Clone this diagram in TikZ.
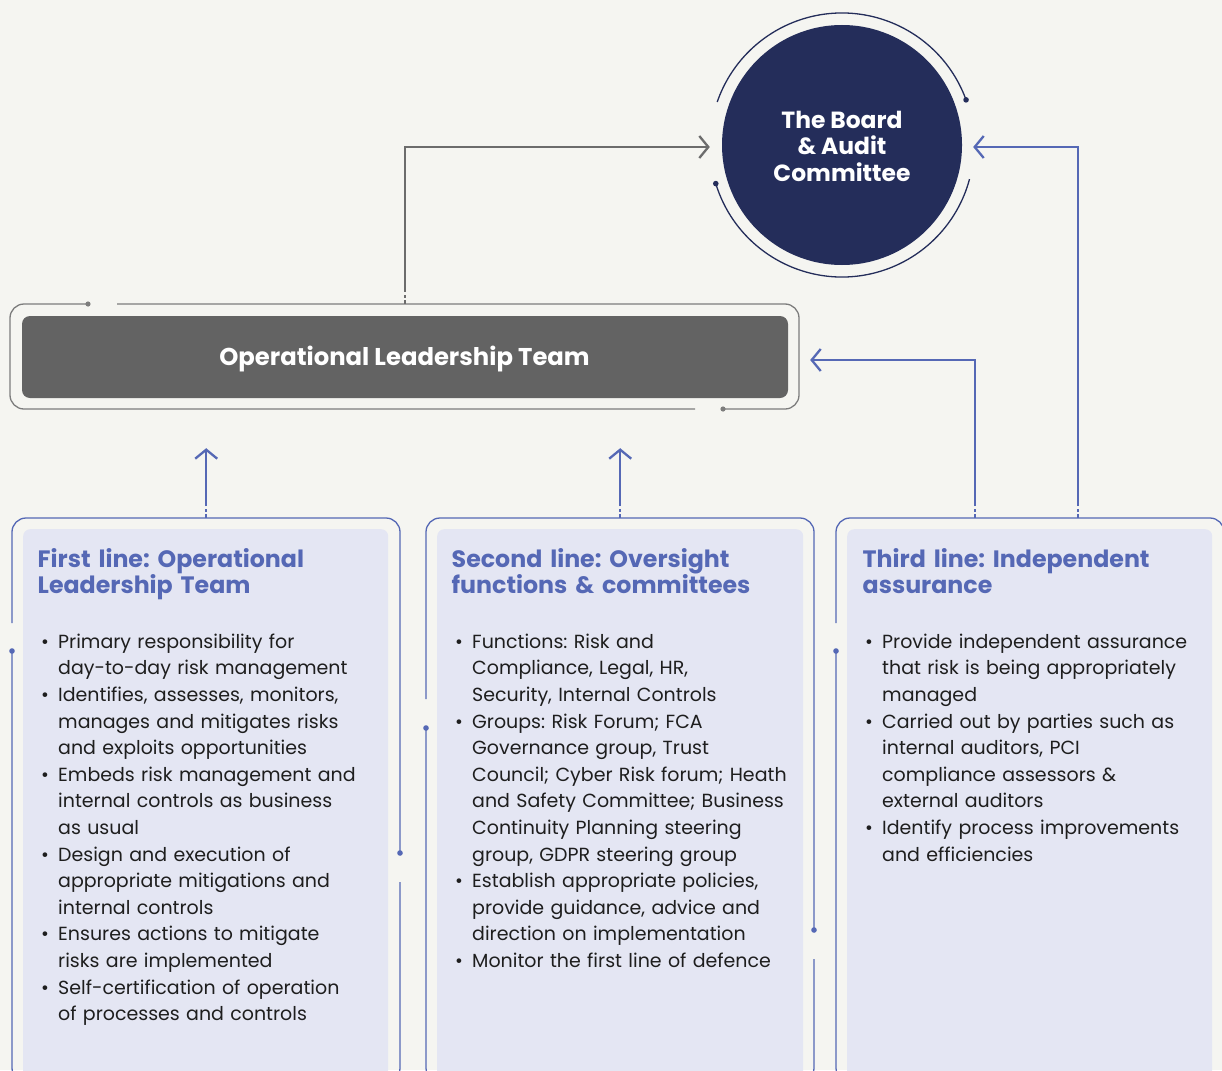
\documentclass[tikz,border=0pt]{standalone}
\usepackage{fontspec}
\setmainfont{Poppins}
\usetikzlibrary{arrows.meta,calc}
\definecolor{bg}{RGB}{245,245,241}
\definecolor{navy}{RGB}{36,45,90}
\definecolor{oltgray}{RGB}{99,99,99}
\definecolor{framegray}{RGB}{125,125,125}
\definecolor{arrowgray}{RGB}{108,108,108}
\definecolor{blueline}{RGB}{85,104,181}
\definecolor{lav}{RGB}{228,230,243}
\definecolor{bodytext}{RGB}{30,30,30}
\newcommand{\bitem}{\makebox[17pt][l]{•}}
\newcommand{\bcont}{\hspace*{17pt}}
\frenchspacing
\begin{document}
\begin{tikzpicture}[x=1pt,y=1pt,
  frame/.style={line width=1.3pt, rounded corners=14pt},
  bframe/.style={frame, draw=blueline},
  gframe/.style={frame, draw=framegray},
  conn/.style={line width=2.3pt, -{Straight Barb[length=9pt,width=22pt]}},
  stub/.style={line width=2.3pt, dash pattern=on 4pt off 2pt on 3pt off 3pt},
  colfill/.style={fill=lav, rounded corners=7pt, inner sep=0pt, anchor=north west, minimum height=560pt},
  colframe/.style={inner sep=0pt, anchor=north west, minimum width=388pt, minimum height=564pt},
  body/.style={anchor=north west, inner sep=0pt, align=left, text width=400pt, text=bodytext, font=\fontsize{19}{26.6}\selectfont},
  title/.style={anchor=north west, inner sep=0pt, align=left, text width=400pt, text=blueline, font=\bfseries\fontsize{23.7}{26}\selectfont}
]
\useasboundingbox (0,0) rectangle (1222,-1070);
\clip (0,0) rectangle (1222,-1070);
\fill[bg] (0,0) rectangle (1222,-1070);

% Board
\node[circle, fill=navy, minimum size=240pt, inner sep=0pt] (board) at (842,-145) {};
\node[text=white, font=\bfseries\fontsize{23.4}{26.5}\selectfont, align=center, inner sep=0pt] (boardtext) at (842,-146) {The Board\\\& Audit\\Committee};
\node[circle, minimum size=264pt, inner sep=0pt] (ring) at (842,-145) {};
\draw[navy, line width=1.3pt] (ring.center) ++(20:132pt) arc[start angle=20, end angle=161, radius=132pt];
\draw[navy, line width=1.3pt] (ring.center) ++(197:132pt) arc[start angle=197, end angle=345, radius=132pt];
\fill[navy] (ring.center) ++(20:132pt) circle (2.8pt);
\fill[navy] (ring.center) ++(197:132pt) circle (2.8pt);

% Operational Leadership Team
\node[fill=oltgray, rounded corners=8pt, minimum width=766pt, minimum height=82pt, inner sep=0pt] (olt) at (405,-357) {};
\node[text=white, font=\bfseries\fontsize{24.3}{26}\selectfont, inner sep=0pt] (olttext) at (404.5,-359) {Operational Leadership Team};
\node[minimum width=789pt, minimum height=105pt, inner sep=0pt] (oltf) at (404.5,-356.5) {};
\draw[gframe] (117,-304) -- (799,-304) -- (799,-409) -- (723,-409);
\draw[gframe] (695,-409) -- (10,-409) -- (10,-304) -- (88,-304);
\fill[framegray] (723,-409) circle (2.6pt);
\fill[framegray] (88,-304) circle (2.6pt);

% Columns
\node[colfill, minimum width=365pt] (c1) at (23,-529) {};
\node[colfill, minimum width=366pt] (c2) at (437,-529) {};
\node[colfill, minimum width=365pt] (c3) at (847,-529) {};
\node[colframe] (f1) at (12,-518) {};
\node[colframe] (f2) at (426,-518) {};
\node[colframe] (f3) at (836,-518) {};

\draw[bframe] (12,-651) -- (12,-1082) -- (400,-1082) -- (400,-882);
\draw[bframe] (400,-853) -- (400,-518) -- (12,-518) -- (12,-623);
\fill[blueline] (12,-651) circle (2.8pt);
\fill[blueline] (400,-853) circle (2.8pt);
\draw[bframe] (426,-728) -- (426,-1082) -- (814,-1082) -- (814,-959);
\draw[bframe] (814,-930) -- (814,-518) -- (426,-518) -- (426,-699);
\fill[blueline] (426,-728) circle (2.8pt);
\fill[blueline] (814,-930) circle (2.8pt);
\draw[bframe] (836,-651) -- (836,-1082) -- (1224,-1082) -- (1224,-518) -- (836,-518) -- (836,-623);
\fill[blueline] (836,-651) circle (2.8pt);

% Connectors
\coordinate (gs) at (olt.north |- oltf.north);
\draw[stub, arrowgray] (gs) -- ++(0,13);
\draw[conn, arrowgray] ($(gs)+(0,13)$) |- ($(ring.west)+(0,-2)$);

\draw[stub, blueline] (f1.north) -- ++(0,13);
\draw[conn, blueline] ($(f1.north)+(0,13)$) -- ($(f1.north |- oltf.south)+(0,-39)$);
\draw[stub, blueline] (f2.north) -- ++(0,13);
\draw[conn, blueline] ($(f2.north)+(0,13)$) -- ($(f2.north |- oltf.south)+(0,-39)$);

\coordinate (ta) at ($(f3.north)+(-55,0)$);
\coordinate (tb) at ($(f3.north)+(48,0)$);
\draw[stub, blueline] (ta) -- ++(0,13);
\draw[conn, blueline] ($(ta)+(0,13)$) |- ($(oltf.east)+(11,-3.5)$);
\draw[stub, blueline] (tb) -- ++(0,13);
\draw[conn, blueline] ($(tb)+(0,13)$) |- ($(ring.east)+(-1,-2)$);

% Titles
\node[title] (t1) at (37.5,-545) {\rule{0pt}{22pt}First line: Operational\\Leadership Team};
\node[title] (t2) at (451.5,-545) {\rule{0pt}{22pt}Second line: Oversight\\functions \& committees};
\node[title] (t3) at (862.5,-545) {\rule{0pt}{22pt}Third line: Independent\\assurance};

% Bodies
\node[body] (b1) at (41,-628) {\rule{0pt}{20pt}\bitem Primary responsibility for\\
\bcont day-to-day risk management\\
\bitem Identifies, assesses, monitors,\\
\bcont manages and mitigates risks\\
\bcont and exploits opportunities\\
\bitem Embeds risk management and\\
\bcont internal controls as business\\
\bcont as usual\\
\bitem Design and execution of\\
\bcont appropriate mitigations and\\
\bcont internal controls\\
\bitem Ensures actions to mitigate\\
\bcont risks are implemented\\
\bitem Self-certification of operation\\
\bcont of processes and controls};

\node[body] (b2) at (455,-628) {\rule{0pt}{20pt}\bitem Functions: Risk and\\
\bcont Compliance, Legal, HR,\\
\bcont Security, Internal Controls\\
\bitem Groups: Risk Forum; FCA\\
\bcont Governance group, Trust\\
\bcont Council; Cyber Risk forum; Heath\\
\bcont and Safety Committee; Business\\
\bcont Continuity Planning steering\\
\bcont group, GDPR steering group\\
\bitem Establish appropriate policies,\\
\bcont provide guidance, advice and\\
\bcont direction on implementation\\
\bitem Monitor the first line of defence};

\node[body] (b3) at (865,-628) {\rule{0pt}{20pt}\bitem Provide independent assurance\\
\bcont that risk is being appropriately\\
\bcont managed\\
\bitem Carried out by parties such as\\
\bcont internal auditors, PCI\\
\bcont compliance assessors \&\\
\bcont external auditors\\
\bitem Identify process improvements\\
\bcont and efficiencies};
\end{tikzpicture}
\end{document}
